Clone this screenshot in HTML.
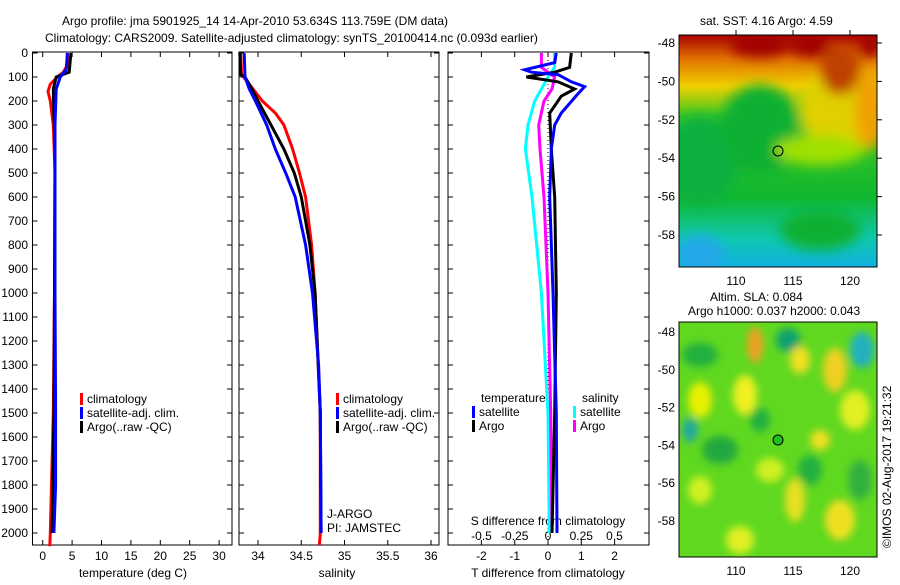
<!DOCTYPE html>
<html><head><meta charset="utf-8"><style>
body{margin:0;background:#fff;}
svg text{font-family:"Liberation Sans",sans-serif;font-size:12px;fill:#000;}
</style></head><body>
<svg id="fig" width="900" height="580" xmlns="http://www.w3.org/2000/svg">
<defs>
<linearGradient id="sstg" x1="0" y1="0" x2="0" y2="1">
<stop offset="0" stop-color="#a80000"/><stop offset="0.1" stop-color="#e07000"/><stop offset="0.22" stop-color="#f0d000"/><stop offset="0.35" stop-color="#40c820"/><stop offset="0.7" stop-color="#10b830"/><stop offset="0.88" stop-color="#10c8b0"/><stop offset="1" stop-color="#10b0e0"/>
</linearGradient>
<filter id="bl" x="-50%" y="-50%" width="200%" height="200%"><feGaussianBlur stdDeviation="6"/></filter>
<filter id="bl2" x="-50%" y="-50%" width="200%" height="200%"><feGaussianBlur stdDeviation="4"/></filter>
<clipPath id="c1"><rect x="679" y="35" width="198" height="232"/></clipPath>
<clipPath id="c2"><rect x="679" y="322" width="198" height="235"/></clipPath>
</defs>
<text x="62" y="25">Argo profile: jma 5901925_14 14-Apr-2010 53.634S 113.759E (DM data)</text>
<text x="45" y="42">Climatology: CARS2009. Satellite-adjusted climatology: synTS_20100414.nc (0.093d earlier)</text>
<g id="g"></g>
<g clip-path="url(#c1)">
<rect x="679" y="35" width="198" height="232" fill="url(#sstg)"/>
<g filter="url(#bl)">
<ellipse cx="700" cy="160" rx="40" ry="45" fill="#10b040"/>
<ellipse cx="760" cy="130" rx="40" ry="45" fill="#10b030"/>
<ellipse cx="840" cy="110" rx="40" ry="40" fill="#e0d000"/>
<ellipse cx="870" cy="110" rx="15" ry="40" fill="#f0a000"/>
<ellipse cx="840" cy="70" rx="20" ry="25" fill="#c04000"/>
<ellipse cx="760" cy="45" rx="30" ry="12" fill="#a00000"/>
<ellipse cx="810" cy="45" rx="20" ry="12" fill="#a00000"/>
<ellipse cx="870" cy="45" rx="10" ry="12" fill="#a00000"/>
<ellipse cx="820" cy="150" rx="45" ry="15" fill="#a0e000"/>
<ellipse cx="700" cy="255" rx="25" ry="20" fill="#20a8e8"/>
<ellipse cx="820" cy="230" rx="40" ry="20" fill="#10b030"/>
</g>
<circle cx="778" cy="151" r="5" fill="none" stroke="#000"/>
</g>
<rect x="679" y="35" width="198" height="232" fill="none" stroke="#000"/>
<text x="700" y="25">sat. SST: 4.16 Argo: 4.59</text>
<g clip-path="url(#c2)">
<rect x="679" y="322" width="198" height="235" fill="#60d820"/>
<g filter="url(#bl2)">
<ellipse cx="700" cy="400" rx="12" ry="18" fill="#e8f000"/>
<ellipse cx="745" cy="395" rx="12" ry="20" fill="#f0f020"/>
<ellipse cx="755" cy="345" rx="8" ry="18" fill="#f0a020"/>
<ellipse cx="788" cy="340" rx="12" ry="12" fill="#10a070"/>
<ellipse cx="862" cy="350" rx="12" ry="18" fill="#20b0c0"/>
<ellipse cx="835" cy="370" rx="12" ry="22" fill="#f0d020"/>
<ellipse cx="855" cy="410" rx="15" ry="20" fill="#e0f020"/>
<ellipse cx="795" cy="500" rx="10" ry="22" fill="#e8e020"/>
<ellipse cx="840" cy="520" rx="15" ry="20" fill="#f0e020"/>
<ellipse cx="720" cy="450" rx="18" ry="14" fill="#20a840"/>
<ellipse cx="740" cy="540" rx="14" ry="14" fill="#e0f020"/>
<ellipse cx="700" cy="490" rx="12" ry="14" fill="#d0f020"/>
<ellipse cx="700" cy="355" rx="18" ry="12" fill="#20b040"/>
<ellipse cx="810" cy="470" rx="12" ry="15" fill="#20b040"/>
<ellipse cx="770" cy="470" rx="14" ry="12" fill="#d0f020"/>
<ellipse cx="820" cy="440" rx="10" ry="10" fill="#f0e020"/>
<ellipse cx="860" cy="480" rx="12" ry="20" fill="#30b040"/>
<ellipse cx="760" cy="420" rx="10" ry="12" fill="#20b040"/>
<ellipse cx="690" cy="430" rx="8" ry="12" fill="#20a8a0"/>
<ellipse cx="800" cy="360" rx="10" ry="14" fill="#f0e020"/>
</g>
<circle cx="778" cy="440" r="5" fill="#20c020" stroke="#000"/>
</g>
<rect x="679" y="322" width="198" height="235" fill="none" stroke="#000"/>
<text x="710" y="301">Altim. SLA: 0.084</text>
<text x="688" y="315">Argo h1000: 0.037 h2000: 0.043</text>
<text transform="translate(891,548) rotate(-90)">©IMOS 02-Aug-2017 19:21:32</text>
</svg>
<script>
const depthT=[0,50,80,100,130,160,200,300,500,1000,1500,2000,2055];
const climT=[4.2,4.2,3.5,2.5,1.3,0.9,1.3,1.8,2.1,2.0,1.8,1.3,1.2];
const depthA=[0,80,100,150,250,400,1000,1500,2000];
const argoT=[4.8,4.5,2.3,1.8,1.9,2.1,2.0,1.9,1.6];
const depthB=[0,70,100,150,300,600,1000,1500,1800,2000];
const satT=[4.2,4.0,3.0,2.3,2.1,2.1,2.1,2.2,2.2,1.9];
const depthS=[0,90,130,200,250,300,400,500,600,800,1000,1500,2000,2050];
const climS=[33.8,33.81,33.9,34.05,34.2,34.3,34.4,34.48,34.55,34.62,34.66,34.72,34.72,34.71];
const depthSA=[0,90,100,150,200,300,400,500,600,800,1000,1500,2000];
const argoS=[33.79,33.8,33.85,33.93,34.0,34.15,34.3,34.42,34.5,34.6,34.66,34.72,34.73];
const depthSB=[0,100,150,200,300,400,500,600,800,1000,1300,1500,2000];
const satS=[33.84,33.85,33.9,33.97,34.1,34.2,34.32,34.43,34.55,34.63,34.7,34.72,34.73];
const depthDT=[0,40,70,80,90,120,140,170,250,300,400,600,1000,1500,2000];
const dTsat=[0.25,0.2,-0.7,-0.5,0.3,0.7,1.1,0.9,0.4,0.2,0.1,0.05,0.15,0.25,0.27];
const depthDA=[0,60,80,100,120,150,180,250,400,600,1000,1500,2000];
const dTargo=[0.7,0.65,0.2,-0.65,0.3,0.8,0.4,0.05,0.1,0.2,0.25,0.2,0.12];
const depthDS=[0,60,100,150,200,300,400,600,1000,1500,2000];
const dSsat=[0.05,0.05,0.0,-0.05,-0.1,-0.15,-0.17,-0.12,-0.05,0.0,0.01];
const dSargo=[-0.05,-0.05,0.05,0.03,-0.03,-0.07,-0.06,-0.03,0.0,0.02,0.03];
const depthTicks=[0,100,200,300,400,500,600,700,800,900,1000,1100,1200,1300,1400,1500,1600,1700,1800,1900,2000];
const tTicks=[0,5,10,15,20,25,30];
const sTicks=[34,34.5,35,35.5,36];
const dTTicks=[-2,-1,0,1,2];
const dSTicks=[-0.5,-0.25,0,0.25,0.5];
const dSTickLabels=["-0.5","-0.25","0","0.25","0.5"];

const NS="http://www.w3.org/2000/svg", G=document.getElementById('g');
const yD=d=>53+d*0.24;
const xT=v=>42.7+v*5.88, xS=v=>258+(v-34)*86.5, xDT=v=>548+v*33.3, xDS=v=>548+v*133;
function mk(tag,at,parent){const e=document.createElementNS(NS,tag);for(const k in at)e.setAttribute(k,at[k]);(parent||G).appendChild(e);return e;}
function line(xs,ds,xf,col,w,nm){const p=xs.map((v,i)=>xf(v).toFixed(1)+','+yD(ds[i]).toFixed(1)).join(' ');
 const e=mk('polyline',{points:p,fill:'none',stroke:col,'stroke-width':w});
 
 }
function txt(x,y,s,anchor,nm){const e=mk('text',{x:x,y:y,'text-anchor':anchor||'start'});e.textContent=s;
 
 return e;}
const panels=[[32.5,232],[239,439],[448,649]];
panels.forEach((p,i)=>{const r=mk('rect',{x:p[0],y:52,width:p[1]-p[0],height:493,fill:'none',stroke:'#000'});
 
 
 depthTicks.forEach(d=>{mk('line',{x1:p[0],x2:p[0]+5,y1:yD(d),y2:yD(d),stroke:'#000'});mk('line',{x1:p[1],x2:p[1]-5,y1:yD(d),y2:yD(d),stroke:'#000'});});});
depthTicks.forEach(d=>txt(28,yD(d)+4,String(d),'end','depth-tick-label'));
tTicks.forEach(v=>{mk('line',{x1:xT(v),x2:xT(v),y1:545,y2:540,stroke:'#000'});mk('line',{x1:xT(v),x2:xT(v),y1:52,y2:57,stroke:'#000'});txt(xT(v),560,String(v),'middle','temp-tick-label');});
sTicks.forEach(v=>{mk('line',{x1:xS(v),x2:xS(v),y1:545,y2:540,stroke:'#000'});mk('line',{x1:xS(v),x2:xS(v),y1:52,y2:57,stroke:'#000'});txt(xS(v),560,String(v),'middle','sal-tick-label');});
dTTicks.forEach(v=>{mk('line',{x1:xDT(v),x2:xDT(v),y1:545,y2:540,stroke:'#000'});mk('line',{x1:xDT(v),x2:xDT(v),y1:52,y2:57,stroke:'#000'});txt(xDT(v),560,String(v),'middle','dt-tick-label');});
dSTicks.forEach((v,i)=>txt(xDS(v),540,dSTickLabels[i],'middle','ds-tick-label'));
txt(133,577,'temperature (deg C)','middle','temp-axis-title');
txt(337,577,'salinity','middle','sal-axis-title');
txt(548,577,'T difference from climatology','middle','dt-axis-title');
txt(548,525,'S difference from climatology','middle','ds-axis-title');
line(climT,depthT,xT,'#f00',3,'temp-climatology');
line(argoT,depthA,xT,'#000',3,'temp-argo');
line(satT,depthB,xT,'#00f',3,'temp-satellite');
line(climS,depthS,xS,'#f00',3,'sal-climatology');
line(argoS,depthSA,xS,'#000',3,'sal-argo');
line(satS,depthSB,xS,'#00f',3,'sal-satellite');
mk('line',{x1:548,x2:548,y1:52,y2:545,stroke:'#000','stroke-dasharray':'1,3'});
line(dSsat,depthDS,xDS,'#0ff',3,'ds-satellite');
line(dSargo,depthDS,xDS,'#f0f',3,'ds-argo');
line(dTargo,depthDA,xDT,'#000',3,'dt-argo');
line(dTsat,depthDT,xDT,'#00f',3,'dt-satellite');
function leg(x,y,col,s,nm){mk('rect',{x:x,y:y-10,width:3,height:12,fill:col});txt(x+7,y,s,'start',nm);}
[80,336].forEach(x=>{leg(x,403,'#f00','climatology','legend-climatology');leg(x,417,'#00f','satellite-adj. clim.','legend-satellite');leg(x,431,'#000','Argo(..raw -QC)','legend-argo');});
txt(481,402,'temperature','start','legend-temperature-header');
txt(582,402,'salinity','start','legend-salinity-header');
leg(472,416,'#00f','satellite','legend-t-satellite');leg(472,430,'#000','Argo','legend-t-argo');
leg(573,416,'#0ff','satellite','legend-s-satellite');leg(573,430,'#f0f','Argo','legend-s-argo');
txt(327,518,'J-ARGO','start','project-label');txt(327,532,'PI: JAMSTEC','start','pi-label');
const lats=[-48,-50,-52,-54,-56,-58], lons=[110,115,120];
lats.forEach(l=>{const y1=43+(-48-l)*19.2;txt(675,y1+4,String(l),'end','sst-lat-label');mk('line',{x1:877,x2:882,y1:y1,y2:y1,stroke:'#000'});
 const y2=332+(-48-l)*18.9;txt(675,y2+4,String(l),'end','sla-lat-label');});
lons.forEach(l=>{const x=736+(l-110)*11.4;txt(x,285,String(l),'middle','sst-lon-label');txt(x,575,String(l),'middle','sla-lon-label');mk('line',{x1:x,x2:x,y1:35,y2:30,stroke:'#000'});});
</script>
</body></html>
